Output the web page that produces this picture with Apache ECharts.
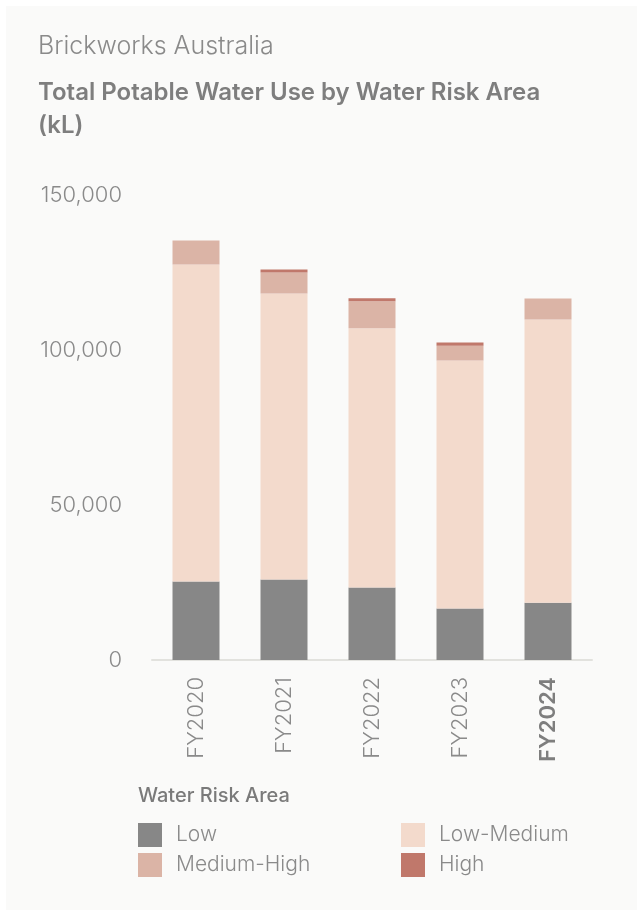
<!DOCTYPE html>
<html>
<head>
<meta charset="utf-8">
<script src="https://cdn.jsdelivr.net/npm/echarts@6/dist/echarts.min.js"></script>
<style>
  html, body { margin: 0; padding: 0; background: #ffffff; }
  #panel { position: absolute; left: 6px; top: 6px; width: 631px; height: 904px; background: #fafaf9; }
  #chart { position: absolute; left: 0; top: 0; width: 637px; height: 916px; }
</style>
</head>
<body>
<div id="panel"></div>
<div id="chart"></div>
<script>
// data (kL)
var years = ['FY2020', 'FY2021', 'FY2022', 'FY2023', 'FY2024'];
var lowVals = [25300, 26000, 23400, 16600, 18500];
var lowMedVals = [102300, 92200, 83600, 80000, 91300];
var medHighVals = [7700, 6800, 8700, 4800, 6800];
var highVals = [0, 1000, 1000, 1000, 0];
var yTicks = [0, 50000, 100000, 150000];

var colors = {
  'Low': '#878787',
  'Low-Medium': '#f3dacc',
  'Medium-High': '#dbb4a6',
  'High': '#c0786b'
};
var txt = '#8a8a8a';
var font = 'Inter, Roboto, sans-serif';

function bar(name, vals) {
  return {
    name: name,
    type: 'bar',
    stack: 'total',
    barWidth: 47,
    itemStyle: { color: colors[name] },
    emphasis: { disabled: true },
    data: vals
  };
}

var chart = echarts.init(document.getElementById('chart'));
chart.setOption({
  animation: false,
  textStyle: { fontFamily: font },
  title: [
    {
      text: 'Brickworks Australia',
      left: 32, top: 34, padding: [0, 6],
      textStyle: { fontSize: 25, fontWeight: 300, color: txt, fontFamily: font }
    },
    {
      text: 'Total Potable Water Use by Water Risk Area\n(kL)',
      left: 32, top: 76, padding: [0, 6],
      textStyle: { fontSize: 24, fontWeight: 600, color: '#7e7e7e', lineHeight: 33, fontFamily: font }
    },
    {
      text: 'Water Risk Area',
      left: 132, top: 786, padding: [0, 6],
      textStyle: { fontSize: 20, fontWeight: 500, color: '#7a7a7a', fontFamily: font }
    }
  ],
  legend: [
    {
      data: ['Low', 'Medium-High'],
      orient: 'vertical',
      left: 133, top: 818,
      itemWidth: 24, itemHeight: 24, itemGap: 6,
      icon: 'rect',
      selectedMode: false,
      textStyle: { fontSize: 21, fontWeight: 300, color: txt, padding: [0, 0, 0, 9], fontFamily: font }
    },
    {
      data: ['Low-Medium', 'High'],
      orient: 'vertical',
      left: 396, top: 818,
      itemWidth: 24, itemHeight: 24, itemGap: 6,
      icon: 'rect',
      selectedMode: false,
      textStyle: { fontSize: 21, fontWeight: 300, color: txt, padding: [0, 0, 0, 9], fontFamily: font }
    }
  ],
  grid: { left: 152, right: 45, top: 195, bottom: 256 },
  xAxis: {
    type: 'category',
    data: years.map(function (y, i) {
      return i === years.length - 1 ? { value: y, textStyle: { fontWeight: 600, color: '#7e7e7e' } } : y;
    }),
    axisLine: { lineStyle: { color: '#e2e2de', width: 2 } },
    axisTick: { show: false },
    axisLabel: { rotate: 90, margin: 17, fontSize: 22, fontWeight: 300, color: txt, fontFamily: font }
  },
  yAxis: {
    type: 'value',
    min: yTicks[0],
    max: yTicks[yTicks.length - 1],
    interval: yTicks[1] - yTicks[0],
    splitLine: { show: false },
    axisLine: { show: false },
    axisTick: { show: false },
    axisLabel: {
      margin: 30, fontSize: 22, fontWeight: 300, color: txt, fontFamily: font,
      formatter: function (v) { return v.toLocaleString('en-US'); }
    }
  },
  series: [
    bar('Low', lowVals),
    bar('Low-Medium', lowMedVals),
    bar('Medium-High', medHighVals),
    bar('High', highVals)
  ]
});
</script>
</body>
</html>
